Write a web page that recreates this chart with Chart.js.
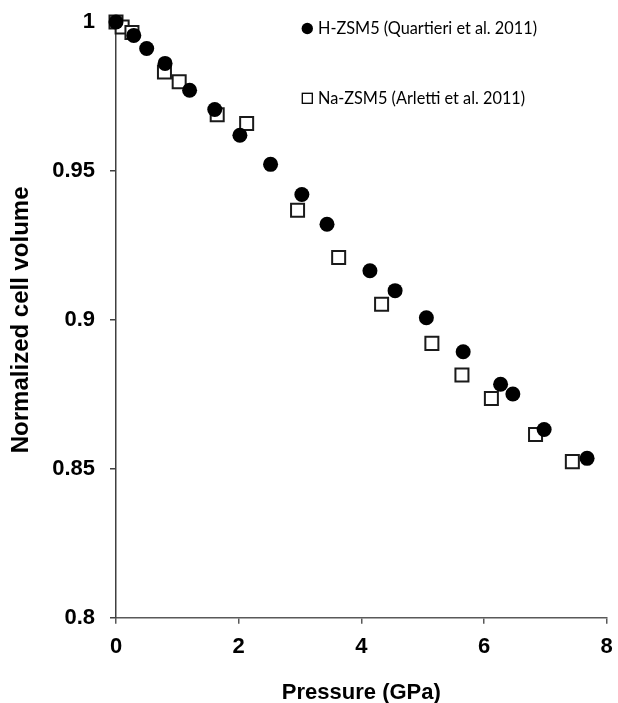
<!DOCTYPE html>
<html>
<head>
<meta charset="utf-8">
<script src="https://cdn.jsdelivr.net/npm/chart.js@4"></script>
<style>
  html, body { margin: 0; padding: 0; background: #ffffff; }
  #wrap { width: 618px; height: 703px; }
</style>
</head>
<body>
<div id="wrap"><canvas id="c" width="618" height="703"></canvas></div>
<script>
// Data
const hzsmPressure = [0, 0.29, 0.5, 0.8, 1.2, 1.61, 2.02, 2.52, 3.03, 3.44, 4.14, 4.55, 5.06, 5.66, 6.27, 6.47, 6.98, 7.68];
const hzsmVolume   = [1.000, 0.9955, 0.9911, 0.9861, 0.9771, 0.9706, 0.9620, 0.9522, 0.9421, 0.9321, 0.9165, 0.9098, 0.9007, 0.8893, 0.8784, 0.8751, 0.8632, 0.8535];
const nazsmPressure = [0, 0.10, 0.26, 0.79, 1.03, 1.65, 2.13, 2.96, 3.63, 4.33, 5.15, 5.64, 6.12, 6.84, 7.44];
const nazsmVolume   = [1.000, 0.9983, 0.9965, 0.9832, 0.9799, 0.9689, 0.9659, 0.9368, 0.9209, 0.9052, 0.8921, 0.8815, 0.8736, 0.8615, 0.8524];
const seriesNames = ['H-ZSM5 (Quartieri et al. 2011)', 'Na-ZSM5 (Arletti et al. 2011)'];
const xTicks = [0, 2, 4, 6, 8];
const yTicks = [0.8, 0.85, 0.9, 0.95, 1];
const xTitle = 'Pressure (GPa)';
const yTitle = 'Normalized cell volume';

const toPts = (xs, ys) => xs.map((x, i) => ({ x: x, y: ys[i] }));

const legendPlugin = {
  id: 'sideLegend',
  afterDraw(chart) {
    const ctx = chart.ctx;
    ctx.save();
    ctx.font = '16.3px Lato, "Open Sans", sans-serif';
    ctx.fillStyle = '#000';
    ctx.textBaseline = 'middle';
    ctx.textAlign = 'left';
    // circle item
    ctx.beginPath();
    ctx.arc(307.3, 28.5, 5.7, 0, Math.PI * 2);
    ctx.fill();
    ctx.fillText(seriesNames[0], 318, 29);
    // square item
    ctx.lineWidth = 1.3;
    ctx.strokeStyle = '#000';
    ctx.fillStyle = '#fff';
    ctx.fillRect(302.3, 93.3, 10, 10);
    ctx.strokeRect(302.3, 93.3, 10, 10);
    ctx.fillStyle = '#000';
    ctx.fillText(seriesNames[1], 318, 99);
    ctx.restore();
  }
};

const tickFont = { family: '"Liberation Sans", Arial, sans-serif', size: 22, weight: 'bold' };

new Chart(document.getElementById('c'), {
  type: 'scatter',
  data: {
    datasets: [
      {
        label: seriesNames[0],
        data: toPts(hzsmPressure, hzsmVolume),
        pointStyle: 'circle',
        pointRadius: 7.5,
        pointHoverRadius: 7.5,
        backgroundColor: '#000000',
        borderColor: '#000000',
        borderWidth: 0,
        clip: false
      },
      {
        label: seriesNames[1],
        data: toPts(nazsmPressure, nazsmVolume),
        pointStyle: 'rect',
        pointRadius: 9.2,
        pointHoverRadius: 9.2,
        backgroundColor: '#ffffff',
        borderColor: '#1a1a1a',
        borderWidth: 2,
        clip: false
      }
    ]
  },
  options: {
    responsive: false,
    animation: false,
    events: [],
    layout: { autoPadding: false, padding: { top: 22, right: 11.3, left: 0, bottom: 0 } },
    plugins: {
      legend: { display: false },
      tooltip: { enabled: false }
    },
    scales: {
      x: {
        type: 'linear',
        min: 0, max: 8,
        afterFit(s) { s.height = 85.3; s.paddingLeft = 0; s.paddingRight = 0; },
        afterBuildTicks(s) { s.ticks = xTicks.map(v => ({ value: v })); },
        border: { display: true, color: '#595959', width: 1.5 },
        grid: { display: true, drawOnChartArea: false, drawTicks: true, tickLength: 6, color: '#595959', lineWidth: 1.5 },
        ticks: { font: tickFont, color: '#000', padding: 10, maxRotation: 0 },
        title: { display: true, text: xTitle, font: { family: '"Liberation Sans", Arial, sans-serif', size: 22, weight: 'bold' }, color: '#000', padding: { top: 0, bottom: -3 } }
      },
      y: {
        type: 'linear',
        min: 0.8, max: 1,
        afterFit(s) { s.width = 116; s.paddingTop = 0; s.paddingBottom = 0; },
        afterBuildTicks(s) { s.ticks = yTicks.map(v => ({ value: v })); },
        border: { display: true, color: '#404040', width: 1.5 },
        grid: { display: true, drawOnChartArea: false, drawTicks: true, tickLength: 6, color: '#404040', lineWidth: 1.5 },
        ticks: { font: tickFont, color: '#000', padding: 15, callback: v => String(v) },
        title: { display: true, text: yTitle, font: { family: '"Liberation Sans", Arial, sans-serif', size: 24, weight: 'bold' }, color: '#000', padding: { top: 6.5, bottom: 0 } }
      }
    }
  },
  plugins: [legendPlugin]
});
</script>
</body>
</html>
